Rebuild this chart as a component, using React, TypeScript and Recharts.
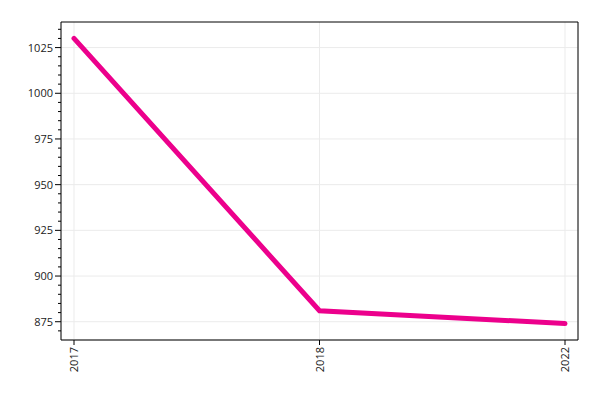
import { CartesianGrid, Line, LineChart, XAxis, YAxis } from "recharts";

const years = ["2017", "2018", "2022"];
const values = [1030, 881, 874];
const majorTicks = [875, 900, 925, 950, 975, 1000, 1025];
const allTicks = [
  870, 875, 880, 885, 890, 895, 900, 905, 910, 915, 920, 925, 930, 935, 940, 945,
  950, 955, 960, 965, 970, 975, 980, 985, 990, 995, 1000, 1005, 1010, 1015, 1020,
  1025, 1030, 1035,
];

const rows = years.map((year, i) => ({ year, value: values[i] }));

const FONT = "'Open Sans', 'Noto Sans', sans-serif";

function YTick(props: any) {
  const { x, y, payload } = props;
  const major = majorTicks.includes(payload.value);
  const len = major ? 6 : 3;
  return (
    <g>
      <line x1={x - len} x2={x} y1={y} y2={y} stroke="#000" strokeWidth={1} />
      {major && (
        <text x={x - 8} y={y} dy={4} textAnchor="end" fontSize={11} fill="#222" fontFamily={FONT}>
          {payload.value}
        </text>
      )}
    </g>
  );
}

function XTick(props: any) {
  const { x, y, payload } = props;
  return (
    <g>
      <line x1={x} x2={x} y1={y} y2={y + 5} stroke="#000" strokeWidth={1} />
      <text
        x={0}
        y={0}
        transform={`translate(${x + 4},${y + 7}) rotate(-90)`}
        textAnchor="end"
        fontSize={11}
        fill="#222"
        fontFamily={FONT}
      >
        {payload.value}
      </text>
    </g>
  );
}

export default function App() {
  return (
    <div style={{ width: 600, height: 400 }}>
      <style>{"body{margin:0}"}</style>
      <LineChart width={600} height={400} data={rows} margin={{ top: 21, right: 21, bottom: 0, left: 0 }}>
        <CartesianGrid stroke="#ebebeb" horizontalValues={majorTicks} />
        <XAxis
          dataKey="year"
          scale="point"
          padding={{ left: 13, right: 13 }}
          height={60}
          axisLine={{ stroke: "#777", strokeWidth: 2 }}
          tickLine={false}
          tickSize={0}
          tickMargin={0}
          tick={<XTick />}
          interval={0}
        />
        <XAxis
          xAxisId="top"
          dataKey="year"
          orientation="top"
          height={1}
          tick={false}
          tickLine={false}
          axisLine={{ stroke: "#000" }}
        />
        <YAxis
          type="number"
          domain={[865, 1039]}
          ticks={allTicks}
          interval={0}
          width={61}
          allowDataOverflow
          axisLine={{ stroke: "#000" }}
          tickLine={false}
          tickSize={0}
          tickMargin={0}
          tick={<YTick />}
        />
        <YAxis
          yAxisId="right"
          orientation="right"
          width={1}
          tick={false}
          tickLine={false}
          axisLine={{ stroke: "#000" }}
        />
        <Line
          type="linear"
          dataKey="value"
          stroke="#ec008c"
          strokeWidth={5}
          strokeLinecap="round"
          dot={false}
          isAnimationActive={false}
        />
      </LineChart>
    </div>
  );
}
